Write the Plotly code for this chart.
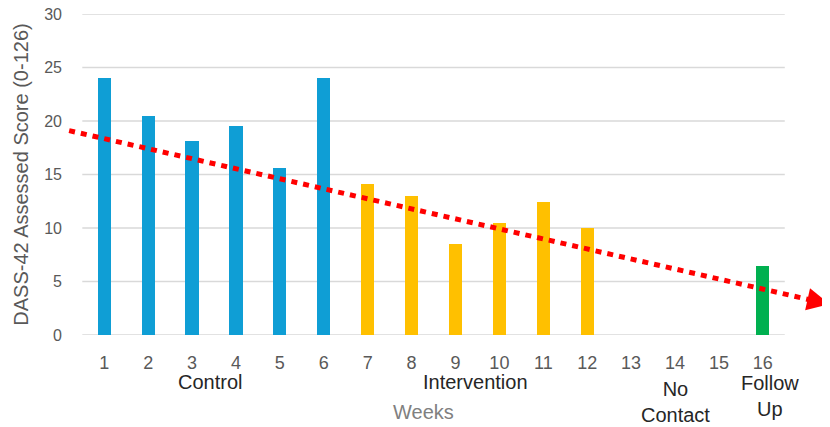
import plotly.graph_objects as go

# ---- data ----
weeks = list(range(1, 17))
week_labels = [str(w) for w in weeks]

control_weeks = [1, 2, 3, 4, 5, 6]
control_scores = [24.0, 20.5, 18.1, 19.5, 15.6, 24.0]

intervention_weeks = [7, 8, 9, 10, 11, 12]
intervention_scores = [14.1, 13.0, 8.5, 10.5, 12.4, 10.0]

followup_weeks = [16]
followup_scores = [6.45]

# hand-drawn trend arrow (start, arrowhead base, tip)
trend_weeks = [0.2, 17.2]
trend_scores = [19.1, 3.17]
arrow_tip_week = 17.52
arrow_tip_score = 2.88

y_ticks = [0, 5, 10, 15, 20, 25, 30]

group_labels = ["Control", "Intervention", "No<br>Contact", "Follow<br>Up"]
group_pos = [3.4, 9.45, 14.0, 16.16]
group_ypos = [-0.147, -0.147, -0.209, -0.191]

FONT = "Liberation Sans"
BLUE = "#0F9ED5"
ORANGE = "#FFC000"
GREEN = "#00B050"
RED = "#FF0000"
GRID = "#D9D9D9"
TICK = "#595959"

fig = go.Figure()
for xs, ys, col in [(control_weeks, control_scores, BLUE),
                    (intervention_weeks, intervention_scores, ORANGE),
                    (followup_weeks, followup_scores, GREEN)]:
    fig.add_trace(go.Bar(x=xs, y=ys, width=0.3, marker=dict(color=col, line=dict(width=0)),
                         showlegend=False))

fig.add_trace(go.Scatter(x=trend_weeks, y=trend_scores, mode="lines",
                         line=dict(color=RED, width=5, dash="6px,6px"),
                         showlegend=False, hoverinfo="skip"))

fig.add_annotation(x=arrow_tip_week, y=arrow_tip_score, ax=trend_weeks[-1], ay=trend_scores[-1],
                   xref="x", yref="y", axref="x", ayref="y", text="", showarrow=True,
                   arrowhead=2, arrowsize=1.5, arrowwidth=3, arrowcolor=RED, standoff=0)

# gridlines limited to the category area
for v in y_ticks:
    fig.add_shape(type="line", xref="x", yref="y", x0=0.5, x1=16.5, y0=v, y1=v,
                  line=dict(color=GRID, width=1.5), layer="below")

for txt, xp, yp in zip(group_labels, group_pos, group_ypos):
    fig.add_annotation(x=xp, y=yp, xref="x", yref="paper", text=txt, showarrow=False,
                       font=dict(family=FONT, size=20, color="#262626"),
                       xanchor="center", yanchor="middle")

fig.add_annotation(x=8.28, y=-0.239, xref="x", yref="paper", text="Weeks", showarrow=False,
                   font=dict(family=FONT, size=20, color="#808080"),
                   xanchor="center", yanchor="middle")

fig.update_layout(
    width=822, height=419,
    margin=dict(l=58, r=0, t=6, b=92, autoexpand=False),
    paper_bgcolor="white", plot_bgcolor="white",
    bargap=0,
    xaxis=dict(range=[0.129, 17.53], tickvals=weeks, ticktext=week_labels,
               showgrid=False, zeroline=False, showline=False, ticks="", automargin=False,
               ticklabelstandoff=15, ticklabeloverflow="allow",
               tickfont=dict(family=FONT, size=18, color=TICK)),
    yaxis=dict(range=[0, 30], tickvals=y_ticks, showgrid=False, zeroline=False,
               showline=False, ticks="", automargin=False, ticklabelstandoff=3,
               ticklabeloverflow="allow",
               tickfont=dict(family=FONT, size=16, color=TICK),
               title=dict(text="DASS-42 Assessed Score (0-126)",
                          font=dict(family=FONT, size=20, color=TICK), standoff=10)),
)

fig.write_html("out.html")
